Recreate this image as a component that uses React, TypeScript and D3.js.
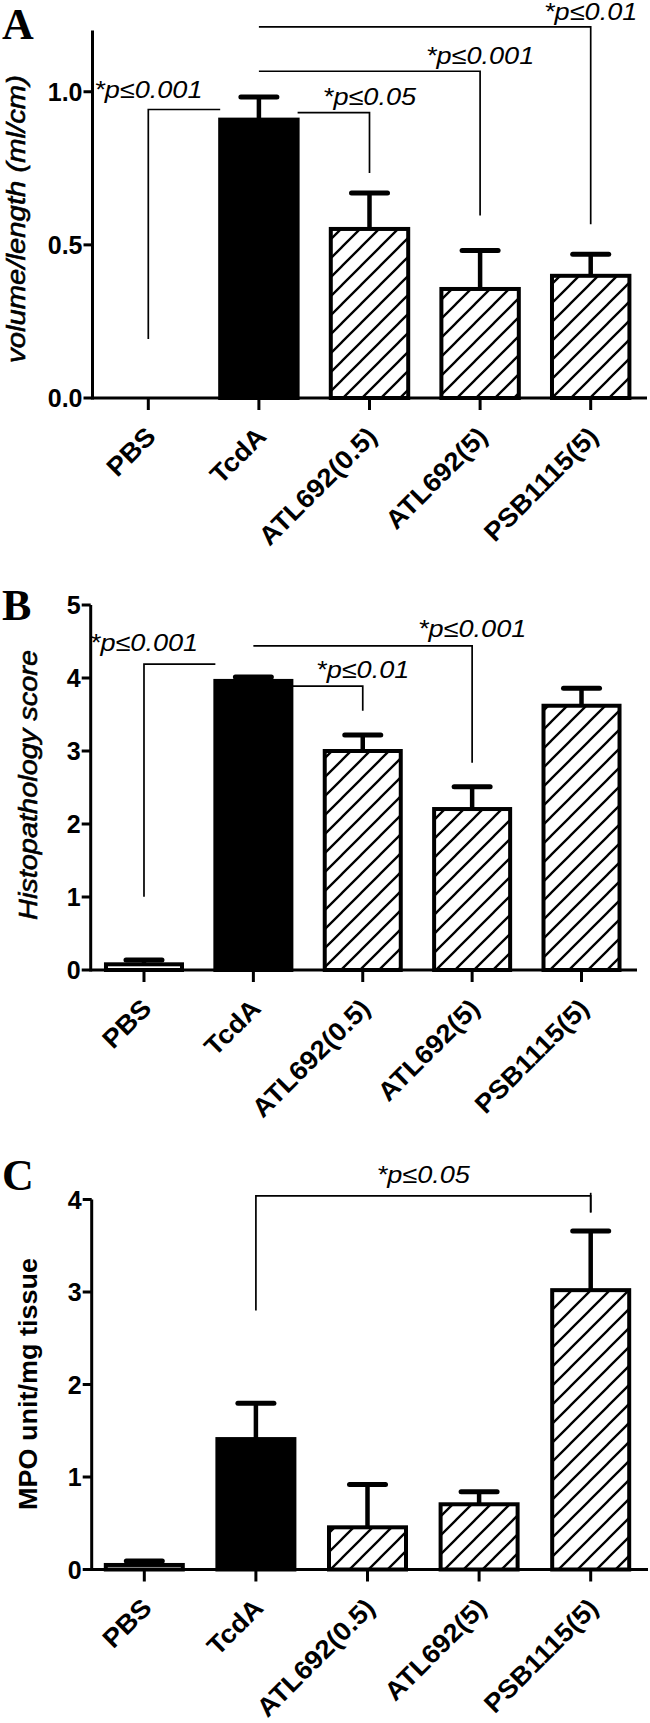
import React from "react";
import * as d3 from "d3";

// groups on the x axis (same for all three panels)
const categories = ["PBS", "TcdA", "ATL692(0.5)", "ATL692(5)", "PSB1115(5)"];
const barFills = ["white", "black", "hatch", "hatch", "hatch"];

// A: fluid volume / loop length
const volumeMeans = [0, 0.909, 0.552, 0.356, 0.399];
const volumeErrors = [0, 0.074, 0.117, 0.126, 0.07];
const volumeTicks = [0, 0.5, 1.0];

// B: histopathology score
const histoMeans = [0.078, 3.96, 3.0, 2.205, 3.62];
const histoErrors = [0.059, 0.055, 0.22, 0.305, 0.24];
const histoTicks = [0, 1, 2, 3, 4, 5];

// C: MPO activity
const mpoMeans = [0.049, 1.41, 0.456, 0.705, 3.02];
const mpoErrors = [0.043, 0.387, 0.464, 0.135, 0.64];
const mpoTicks = [0, 1, 2, 3, 4];

// significance brackets: [from, fromSide, to, toSide, level, fromDrop, toDrop, text, textAt, textLevel]
const volumeBrackets = [
  ["PBS", "center", "TcdA", "left", 0.942, 0.193, null, "*p≤0.001", "from", 0.978],
  ["TcdA", "right", "ATL692(0.5)", "center", 0.932, null, 0.735, "*p≤0.05", "to", 0.956],
  ["TcdA", "center", "ATL692(5)", "center", 1.067, null, 0.596, "*p≤0.001", "to", 1.092],
  ["TcdA", "center", "PSB1115(5)", "center", 1.212, null, 0.567, "*p≤0.01", "to", 1.234],
];
const histoBrackets = [
  ["PBS", "center", "TcdA", "left", 4.19, 1.004, null, "*p≤0.001", "from", 4.37],
  ["TcdA", "center", "ATL692(5)", "center", 4.44, null, 2.84, "*p≤0.001", "to", 4.566],
  ["TcdA", "right", "ATL692(0.5)", "center", 3.89, null, 3.55, "*p≤0.01", "to", 4.0],
];
const mpoBrackets = [
  ["TcdA", "center", "PSB1115(5)", "center", 4.04, 2.8, 3.86, "*p≤0.05", "mid", 4.18],
];

const SANS = "'Liberation Sans', Arial, Helvetica, sans-serif";
const SERIF = "'Liberation Serif', 'Times New Roman', serif";

const panels = [
  {
    letter: "A", letterY: 39, means: volumeMeans, errors: volumeErrors, ticks: volumeTicks,
    fmt: d3.format(".1f"), max: 1.2, y0: 398, yTop: 30.5, axisX: 92.5, band: [93, 646], pad: 0.3,
    xEnd: 647, title: "volume/length (ml/cm)", titleBold: false,
    titleX: 25, titleY: 219, titleLen: 288, brackets: volumeBrackets,
  },
  {
    letter: "B", letterY: 620, means: histoMeans, errors: histoErrors, ticks: histoTicks,
    fmt: d3.format("d"), max: 5, y0: 970, yTop: 605, axisX: 90.7, band: [89.3, 636.2], pad: 0.305,
    xEnd: 637, title: "Histopathology score", titleBold: false,
    titleX: 37, titleY: 785, titleLen: 270, brackets: histoBrackets,
  },
  {
    letter: "C", letterY: 1190, means: mpoMeans, errors: mpoErrors, ticks: mpoTicks,
    fmt: d3.format("d"), max: 4, y0: 1569.5, yTop: 1199.5, axisX: 91.7, band: [88.5, 646.5], pad: 0.31,
    xEnd: 648, title: "MPO unit/mg tissue", titleBold: true,
    titleX: 37, titleY: 1384, titleLen: 252, brackets: mpoBrackets,
  },
];

function Panel({ p }) {
  const x = d3.scaleBand().domain(categories).range(p.band).paddingInner(p.pad).paddingOuter(p.pad / 2);
  const y = d3.scaleLinear().domain([0, p.max]).range([p.y0, p.yTop]);
  const bw = x.bandwidth();
  const cx = (c) => x(c) + bw / 2;
  const side = (c, s) => (s === "left" ? x(c) : s === "right" ? x(c) + bw : cx(c));

  return (
    <g>
      <text x={2} y={p.letterY} fontFamily={SERIF} fontWeight="bold" fontSize={44}>{p.letter}</text>

      {/* y axis */}
      <line x1={p.axisX} x2={p.axisX} y1={y(0) + 1.5} y2={y(p.max)} stroke="black" strokeWidth={3} />
      {p.ticks.map((t) => (
        <g key={t}>
          <line x1={p.axisX - 9} x2={p.axisX} y1={y(t)} y2={y(t)} stroke="black" strokeWidth={3} />
          <text x={p.axisX - 10} y={y(t)} dy="0.36em" textAnchor="end" fontFamily={SANS} fontWeight="bold" fontSize={25}>
            {p.fmt(t)}
          </text>
        </g>
      ))}
      <text
        transform={`translate(${p.titleX},${p.titleY}) rotate(-90)`}
        textAnchor="middle" fontFamily={SANS} fontSize={26}
        fontStyle={p.titleBold ? "normal" : "italic"} fontWeight={p.titleBold ? "bold" : "normal"}
        stroke={p.titleBold ? "none" : "black"} strokeWidth={0.6}
        textLength={p.titleLen} lengthAdjust="spacingAndGlyphs"
      >
        {p.title}
      </text>

      {/* error bars */}
      {categories.map((c, i) =>
        p.errors[i] > 0 ? (
          <g key={c}>
            <line x1={cx(c)} x2={cx(c)} y1={y(p.means[i])} y2={y(p.means[i] + p.errors[i])} stroke="black" strokeWidth={4.5} />
            <line x1={cx(c) - 18} x2={cx(c) + 18} y1={y(p.means[i] + p.errors[i])} y2={y(p.means[i] + p.errors[i])}
              stroke="black" strokeWidth={5} strokeLinecap="round" />
          </g>
        ) : null
      )}

      {/* bars */}
      {categories.map((c, i) =>
        p.means[i] > 0 ? (
          <rect key={c} x={x(c)} width={bw} y={y(p.means[i])} height={y(0) - y(p.means[i])}
            fill={barFills[i] === "hatch" ? "url(#hatch)" : barFills[i]} stroke="black" strokeWidth={4} />
        ) : null
      )}

      {/* x axis */}
      <line x1={p.axisX} x2={p.xEnd} y1={y(0)} y2={y(0)} stroke="black" strokeWidth={3} />
      {categories.map((c) => (
        <g key={c}>
          <line x1={cx(c)} x2={cx(c)} y1={y(0)} y2={y(0) + 12} stroke="black" strokeWidth={3} />
          <text transform={`translate(${cx(c) + 9},${y(0) + 40}) rotate(-45) scale(1.06,1)`} textAnchor="end"
            fontFamily={SANS} fontWeight="bold" fontSize={26}>
            {c}
          </text>
        </g>
      ))}

      {/* significance brackets */}
      {p.brackets.map((b, k) => {
        const [from, fromSide, to, toSide, level, fromDrop, toDrop, label, at, labelLevel] = b;
        const x1 = side(from, fromSide);
        const x2 = side(to, toSide);
        const ly = y(level);
        let d = fromDrop !== null ? `M${x1},${y(fromDrop)}L${x1},${ly}` : `M${x1},${ly}`;
        d += `L${x2},${ly}`;
        if (toDrop !== null) d += `L${x2},${y(toDrop)}`;
        const tx = at === "from" ? x1 : at === "to" ? x2 : (x1 + x2) / 2;
        return (
          <g key={k}>
            <path d={d} fill="none" stroke="black" strokeWidth={1.7} />
            {at === "mid" ? (
              <line x1={x2} x2={x2} y1={ly - 3} y2={y(toDrop)} stroke="black" strokeWidth={1.7} />
            ) : null}
            <text transform={`translate(${tx},${y(labelLevel)}) scale(1.13,1)`} textAnchor="middle"
              fontFamily={SANS} fontStyle="italic" fontSize={24}>
              {label}
            </text>
          </g>
        );
      })}
    </g>
  );
}

export default function App() {
  return (
    <svg width={650} height={1723} style={{ position: "absolute", left: 0, top: 0, background: "white" }}>
      <defs>
        <pattern id="hatch" patternUnits="userSpaceOnUse" width={19} height={19}>
          <path d="M-2,2L2,-2M0,19L19,0M17,21L21,17" stroke="black" strokeWidth={2.3} />
        </pattern>
      </defs>
      <rect width={650} height={1723} fill="white" />
      {panels.map((p) => (
        <Panel key={p.letter} p={p} />
      ))}
    </svg>
  );
}
